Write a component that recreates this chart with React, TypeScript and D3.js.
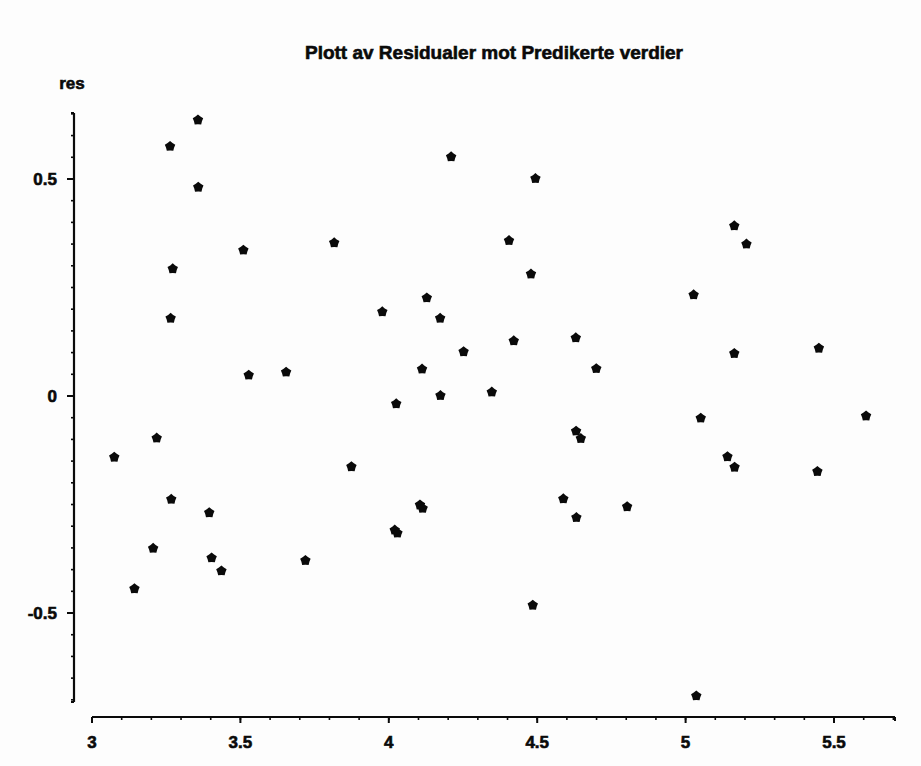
import React from "react";
import * as d3 from "d3";

const title = "Plott av Residualer mot Predikerte verdier";
const yLabel = "res";

const predicted = [
  3.075, 3.143, 3.206, 3.218, 3.263, 3.265, 3.272, 3.267, 3.357, 3.358,
  3.395, 3.403, 3.436, 3.51, 3.528, 3.654, 3.719, 3.816, 3.874, 3.978,
  4.02, 4.029, 4.025, 4.105, 4.114, 4.112, 4.128, 4.173, 4.174, 4.21,
  4.252, 4.347, 4.405, 4.421, 4.479, 4.485, 4.494, 4.588, 4.63, 4.631,
  4.647, 4.632, 4.699, 4.803, 5.027, 5.036, 5.051, 5.141, 5.164, 5.165,
  5.164, 5.205, 5.449, 5.444, 5.608,
];
const residuals = [
  -0.141, -0.444, -0.351, -0.097, 0.575, 0.179, 0.293, -0.238, 0.636, 0.481,
  -0.269, -0.373, -0.403, 0.336, 0.048, 0.055, -0.379, 0.353, -0.163, 0.194,
  -0.309, -0.316, -0.018, -0.251, -0.259, 0.062, 0.226, 0.179, 0.001, 0.551,
  0.102, 0.009, 0.358, 0.127, 0.281, -0.482, 0.501, -0.237, 0.134, -0.081,
  -0.098, -0.28, 0.063, -0.255, 0.233, -0.691, -0.051, -0.14, 0.392, -0.164,
  0.098, 0.35, 0.11, -0.174, -0.046,
];

const xTickValues = [3, 3.5, 4, 4.5, 5, 5.5];
const xTickLabels = ["3", "3.5", "4", "4.5", "5", "5.5"];
const yTickValues = [-0.5, 0, 0.5];
const yTickLabels = ["-0.5", "0", "0.5"];
const xDomain = [3, 5.7055];
const yDomain = [-0.705, 0.652];
const xMinorStep = 0.1;
const yMinorStep = 0.05;

function starPath(rOuter: number, rInner: number) {
  const pts: [number, number][] = [];
  for (let i = 0; i < 10; i++) {
    const a = (Math.PI / 5) * i;
    const r = i % 2 === 0 ? rOuter : rInner;
    pts.push([r * Math.sin(a), -r * Math.cos(a)]);
  }
  return d3.line()(pts) + "Z";
}

export default function App() {
  const x = d3.scaleLinear().domain(xDomain).range([92, 895]);
  const y = d3.scaleLinear().domain(yDomain).range([702, 113]);
  const axisX = 74;
  const axisY = 717;
  const font = "'Liberation Sans', Arial, sans-serif";
  const ink = "#0a0a0a";
  const textStroke = { stroke: ink, strokeWidth: 0.6 };

  const xMinor = d3.range(xDomain[0], xDomain[1] + 1e-9, xMinorStep);
  const yMinor = d3.range(-0.7, yDomain[1] + 1e-9, yMinorStep);
  const marker = starPath(5.5, 4.2);

  return (
    <svg
      width={921}
      height={766}
      style={{ position: "absolute", left: 0, top: 0, background: "#fdfdfd" }}
    >
      <rect x={0} y={0} width={921} height={766} fill="#fdfdfd" />
      <text
        x={494}
        y={59}
        textAnchor="middle"
        fontFamily={font}
        fontWeight="bold"
        fontSize={19}
        fill={ink}
        {...textStroke}
      >
        {title}
      </text>
      <text
        x={72}
        y={89}
        textAnchor="middle"
        fontFamily={font}
        fontWeight="bold"
        fontSize={17}
        fill={ink}
        {...textStroke}
      >
        {yLabel}
      </text>

      {/* y axis */}
      <line x1={axisX} x2={axisX} y1={y(yDomain[1])} y2={y(yDomain[0])} stroke={ink} strokeWidth={2.2} />
      {yMinor.map((v, i) => (
        <line key={"ym" + i} x1={axisX - 3} x2={axisX} y1={y(v)} y2={y(v)} stroke={ink} strokeWidth={1.6} />
      ))}
      <line x1={axisX - 3} x2={axisX} y1={y(yDomain[1])} y2={y(yDomain[1])} stroke={ink} strokeWidth={2} />
      <line x1={axisX - 3} x2={axisX} y1={y(yDomain[0])} y2={y(yDomain[0])} stroke={ink} strokeWidth={2} />
      {yTickValues.map((v, i) => (
        <g key={"yt" + i}>
          <line x1={axisX - 7} x2={axisX} y1={y(v)} y2={y(v)} stroke={ink} strokeWidth={2} />
          <text
            x={57}
            y={y(v) + 6}
            textAnchor="end"
            fontFamily={font}
            fontWeight="bold"
            fontSize={17}
            fill={ink}
            {...textStroke}
          >
            {yTickLabels[i]}
          </text>
        </g>
      ))}

      {/* x axis */}
      <line x1={x(xDomain[0])} x2={x(xDomain[1])} y1={axisY} y2={axisY} stroke={ink} strokeWidth={2.2} />
      {xMinor.map((v, i) => (
        <line key={"xm" + i} x1={x(v)} x2={x(v)} y1={axisY} y2={axisY + 3} stroke={ink} strokeWidth={1.6} />
      ))}
      <line x1={x(xDomain[1])} x2={x(xDomain[1])} y1={axisY} y2={axisY + 4} stroke={ink} strokeWidth={2} />
      {xTickValues.map((v, i) => (
        <g key={"xt" + i}>
          <line x1={x(v)} x2={x(v)} y1={axisY} y2={axisY + 6} stroke={ink} strokeWidth={2} />
          <text
            x={x(v)}
            y={748}
            textAnchor="middle"
            fontFamily={font}
            fontWeight="bold"
            fontSize={17}
            fill={ink}
            {...textStroke}
          >
            {xTickLabels[i]}
          </text>
        </g>
      ))}

      {/* points */}
      {predicted.map((p, i) => (
        <path
          key={"p" + i}
          d={marker}
          transform={`translate(${x(p)},${y(residuals[i])})`}
          fill={ink}
        />
      ))}
    </svg>
  );
}
